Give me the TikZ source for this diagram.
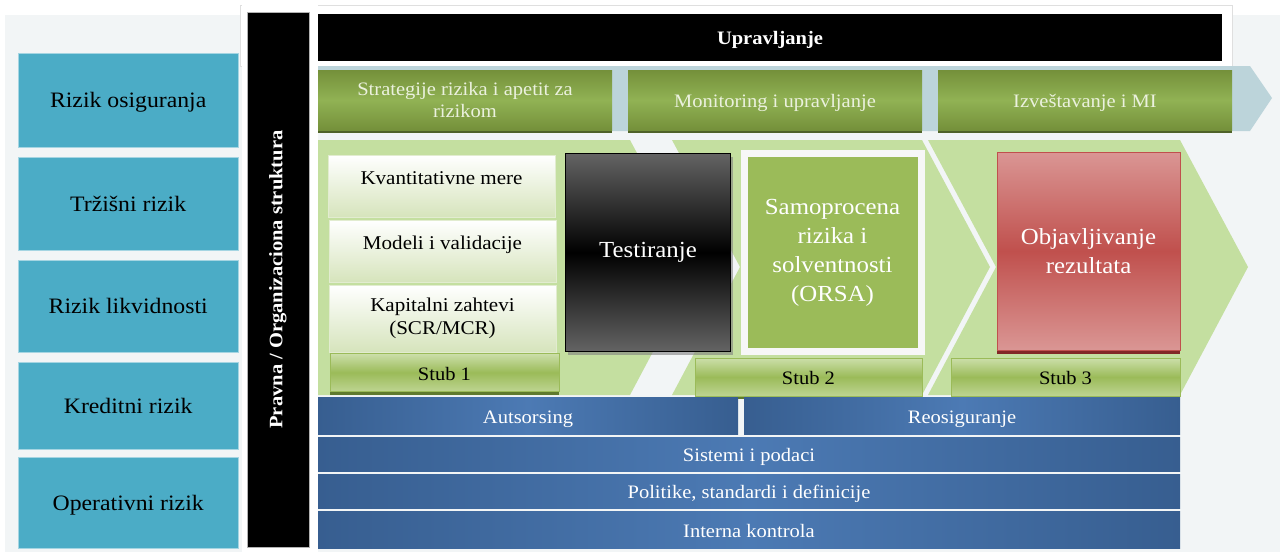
\documentclass[tikz,border=0pt]{standalone}
\usepackage{fontspec}
\setmainfont{Liberation Serif}[FakeStretch=1.08]
\usetikzlibrary{shadows}
\definecolor{bgray}{RGB}{242,245,246}
\definecolor{rizik}{RGB}{75,172,198}
\definecolor{hdrgreen}{RGB}{116,144,58}
\definecolor{hdrlight}{RGB}{145,178,84}
\definecolor{hdrdark}{RGB}{79,98,40}
\definecolor{hdrtext}{RGB}{235,241,222}
\definecolor{hdrarrow}{RGB}{188,212,218}
\definecolor{chev}{RGB}{196,223,160}
\definecolor{kboxgreen}{RGB}{214,228,188}
\definecolor{stubtop}{RGB}{204,223,170}
\definecolor{stubmid}{RGB}{155,187,89}
\definecolor{stubdark}{RGB}{95,122,46}
\definecolor{orsagreen}{RGB}{155,187,89}
\definecolor{redmid}{RGB}{192,80,77}
\definecolor{redlight}{RGB}{218,150,148}
\definecolor{reddark}{RGB}{130,40,38}
\definecolor{testgray}{RGB}{100,100,100}
\definecolor{bluedark}{RGB}{55,94,144}
\definecolor{bluelight}{RGB}{76,122,180}

\begin{document}
\begin{tikzpicture}[x=1pt,y=-1pt,
    every node/.style={align=center,inner sep=0pt},
    oneline/.style={text height=17pt,text depth=2pt},
    riskbox/.style={fill=rizik,draw=rizik!50!white,minimum width=220pt,anchor=north west,oneline,font=\fontsize{22}{24}\selectfont},
    hdrbox/.style={top color=hdrgreen,bottom color=hdrgreen,middle color=hdrlight,minimum width=294pt,minimum height=60pt,text=hdrtext,font=\fontsize{19}{22}\selectfont,drop shadow={shadow xshift=0pt,shadow yshift=-2.5pt,fill=hdrdark,opacity=1}},
    kbox/.style={top color=white,bottom color=kboxgreen,draw=kboxgreen!70!white,minimum width=227pt,font=\fontsize{19.5}{23}\selectfont},
    stubbox/.style={top color=stubtop,bottom color=stubtop!70!stubmid,middle color=stubmid,draw=stubmid,minimum width=228pt,minimum height=38pt,oneline,font=\fontsize{19}{22}\selectfont,drop shadow={shadow xshift=0pt,shadow yshift=-3pt,fill=stubdark,opacity=1}},
    bluebar/.style={left color=bluedark,right color=bluedark,middle color=bluelight,text=white,oneline,font=\fontsize{19}{22}\selectfont},
    bigtext/.style={font=\fontsize{23}{29}\selectfont}]
  \useasboundingbox (0,0) rectangle (1280,552);
  \fill[white] (0,0) rectangle (1280,552);
  \fill[bgray] (5,15) rectangle (1280,552);
  \fill[white] (240,5) rectangle (1232,66);
  \draw[gray!25] (240,5) rectangle (1232,66);
  \fill[white] (242,5) rectangle (318,552);

  % rizici
  \foreach \t/\y/\h [count=\i] in {Rizik osiguranja/53/94,Tržišni rizik/157/93,Rizik likvidnosti/260/92,Kreditni rizik/362/87,Operativni rizik/457/91}
    \node[riskbox,minimum height=\h pt] (risk\i) at (18,\y) {\t};

  \node[fill=black,draw=gray!60,minimum width=535pt,minimum height=62pt,rotate=90,text=white,font=\bfseries\fontsize{19}{22}\selectfont] (pravna) at (278,279.5) {Pravna / Organizaciona struktura};
  \node[fill=black,minimum width=904pt,minimum height=47pt,text=white,oneline,font=\bfseries\fontsize{19}{22}\selectfont] (upr) at (770,37) {Upravljanje};

  % gornji red
  \fill[hdrarrow] (318,66) -- (1250,66) -- (1272,98) -- (1250,131) -- (318,131) -- cycle;
  \node[hdrbox] (hdr1) at (465,100) {Strategije rizika i apetit za\\rizikom};
  \node[hdrbox,oneline] (hdr2) at (775,100) {Monitoring i upravljanje};
  \node[hdrbox,oneline] (hdr3) at (1085,100) {Izveštavanje i MI};

  % strelice
  \fill[chev] (318,140) -- (630,140) -- (698,267) -- (630,395) -- (318,395) -- cycle;
  \fill[chev] (672,140) -- (922,140) -- (990,267) -- (922,395) -- (672,395) -- (740,267) -- cycle;
  \fill[chev] (928,140) -- (1180,140) -- (1248,267) -- (1180,395) -- (928,395) -- (996,267) -- cycle;

  \node[kbox,minimum height=62pt,text height=13pt,text depth=16pt] (kvant) at (441.5,186) {Kvantitativne mere};
  \node[kbox,minimum height=62pt,text height=13pt,text depth=16pt] (modeli) at (442.5,251) {Modeli i validacije};
  \node[kbox,minimum height=67pt] (kapital) at (442.5,318.5) {Kapitalni zahtevi\\(SCR/MCR)};
  \node[top color=testgray,bottom color=testgray,middle color=black,draw=black,line width=1.2pt,minimum width=165pt,minimum height=198pt,text=white,bigtext,drop shadow={shadow xshift=2pt,shadow yshift=-3pt,fill=gray,opacity=0.6}] (test) at (648,252.5) {Testiranje};
  \node[fill=orsagreen,draw=white!94!gray,line width=7pt,minimum width=177pt,minimum height=198pt,text=white,bigtext] (orsa) at (832.5,252.5) {Samoprocena\\rizika i\\solventnosti\\(ORSA)};
  \node[top color=redlight,bottom color=redlight,middle color=redmid,draw=redmid,minimum width=183pt,minimum height=198pt,text=white,bigtext,drop shadow={shadow xshift=0pt,shadow yshift=-3.5pt,fill=reddark,opacity=1}] (objav) at (1088.5,251) {Objavljivanje\\rezultata};

  \node[stubbox,minimum width=229pt] (stub1) at (444.5,372.5) {Stub 1};
  \node[stubbox,minimum width=227pt] (stub2) at (808.5,377) {Stub 2};
  \node[stubbox,minimum width=229pt] (stub3) at (1065.5,377) {Stub 3};

  % donji redovi
  \node[bluebar,minimum width=420pt,minimum height=37pt] (auts) at (528,415.5) {Autsorsing};
  \node[bluebar,minimum width=436pt,minimum height=37pt] (reos) at (962,415.5) {Reosiguranje};
  \node[bluebar,minimum width=862pt,minimum height=34pt] (sist) at (749,454) {Sistemi i podaci};
  \node[bluebar,minimum width=862pt,minimum height=34pt] (polit) at (749,491) {Politike, standardi i definicije};
  \node[bluebar,minimum width=862pt,minimum height=37pt] (kontr) at (749,529.5) {Interna kontrola};
\end{tikzpicture}
\end{document}
